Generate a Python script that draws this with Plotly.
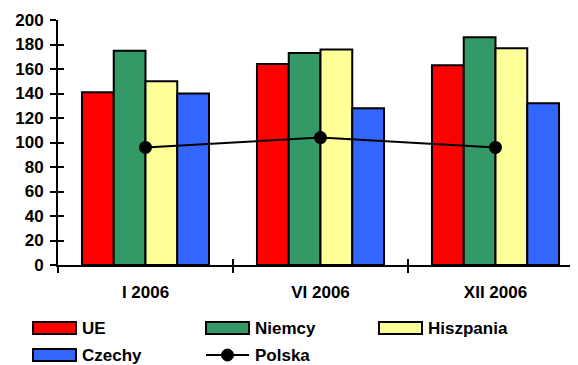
import plotly.graph_objects as go

categories = ["I 2006", "VI 2006", "XII 2006"]
ue = [141, 164, 163]
niemcy = [175, 173, 186]
hiszpania = [150, 176, 177]
czechy = [140, 128, 132]
polska = [96, 104, 96]
y_ticks = [0, 20, 40, 60, 80, 100, 120, 140, 160, 180, 200]

colors = {"UE": "#FF0000", "Niemcy": "#339966", "Hiszpania": "#FFFF99", "Czechy": "#3366FF"}
FONT = "Liberation Sans, Arial, sans-serif"

OFF = 8  # browser default body margin
W, H = 578 - OFF, 365 - OFF
ML, MT = 58 - OFF, 20 - OFF
MR = 0
MB = 100
PW, PH = W - ML - MR, H - MT - MB

fig = go.Figure()
for name, vals in [("UE", ue), ("Niemcy", niemcy), ("Hiszpania", hiszpania), ("Czechy", czechy)]:
    fig.add_trace(go.Bar(x=categories, y=vals, name=name,
                         marker=dict(color=colors[name], line=dict(color="black", width=2)),
                         showlegend=False))
fig.add_trace(go.Scatter(x=categories, y=polska, name="Polska", mode="lines+markers",
                         line=dict(color="black", width=2), marker=dict(color="black", size=13),
                         showlegend=False))
# invisible trace for overlay axes (cross ticks)
fig.add_trace(go.Scatter(x=categories, y=[None] * 3, xaxis="x2", yaxis="y2", showlegend=False, hoverinfo="skip"))

xr = [-0.5, -0.5 + PW / 175.0]
fig.update_layout(
    width=W, height=H, margin=dict(l=ML, r=MR, t=MT, b=MB, pad=0),
    plot_bgcolor="white", paper_bgcolor="white",
    barmode="group", bargap=0.274, bargroupgap=0,
    font=dict(family=FONT, size=17, color="black"),
    xaxis=dict(type="category", range=xr, showline=True, linecolor="black", linewidth=2,
               ticks="outside", ticklen=6, tickwidth=2, tickcolor="black", tickson="boundaries",
               tickvals=categories, ticktext=["<b>%s</b>" % c for c in categories],
               showgrid=False, tickfont=dict(family=FONT, size=17), ticklabelstandoff=11),
    yaxis=dict(range=[0, 200], tickvals=y_ticks, ticktext=["<b>%d</b>" % v for v in y_ticks],
               showline=True, linecolor="black", linewidth=2,
               ticks="outside", ticklen=6, tickwidth=2, tickcolor="black", showgrid=False, zeroline=False,
               tickfont=dict(family=FONT, size=17), ticklabelstandoff=3),
    xaxis2=dict(type="category", overlaying="x", anchor="y", side="bottom", range=xr, showline=False,
                ticks="inside", ticklen=6, tickwidth=2, tickcolor="black", tickson="boundaries",
                showticklabels=False, showgrid=False),
    yaxis2=dict(overlaying="y", anchor="x", side="left", range=[0, 200], tickvals=y_ticks, ticks="inside",
                ticklen=6, tickwidth=2, tickcolor="black", showticklabels=False, showgrid=False,
                zeroline=False, showline=False),
)

# helpers: reference-picture pixel -> paper coords
def px_x(p):
    return (p - OFF - ML) / PW

def px_y(p):
    return (H - MB - (p - OFF)) / PH

legend_items = [
    ("UE", "bar", 33, 328),
    ("Niemcy", "bar", 206, 328),
    ("Hiszpania", "bar", 379, 328),
    ("Czechy", "bar", 33, 355),
    ("Polska", "line", 206, 355),
]
shapes = []
annotations = []
for name, kind, x0, yc in legend_items:
    if kind == "bar":
        shapes.append(dict(type="rect", xref="paper", yref="paper",
                           x0=px_x(x0), x1=px_x(x0 + 43), y0=px_y(yc - 6), y1=px_y(yc + 6),
                           fillcolor=colors[name], line=dict(color="black", width=2)))
    else:
        shapes.append(dict(type="line", xref="paper", yref="paper",
                           x0=px_x(x0), x1=px_x(x0 + 43), y0=px_y(yc), y1=px_y(yc),
                           line=dict(color="black", width=2)))
        cx = x0 + 21.5
        shapes.append(dict(type="circle", xref="paper", yref="paper",
                           x0=px_x(cx - 6), x1=px_x(cx + 6), y0=px_y(yc - 6), y1=px_y(yc + 6),
                           fillcolor="black", line=dict(color="black", width=1)))
    annotations.append(dict(text="<b>%s</b>" % name, xref="paper", yref="paper", x=px_x(x0 + 47), y=px_y(yc),
                            xanchor="left", yanchor="middle", showarrow=False,
                            font=dict(family=FONT, size=17, color="black")))
fig.update_layout(shapes=shapes, annotations=annotations)

fig.write_html("out.html")
